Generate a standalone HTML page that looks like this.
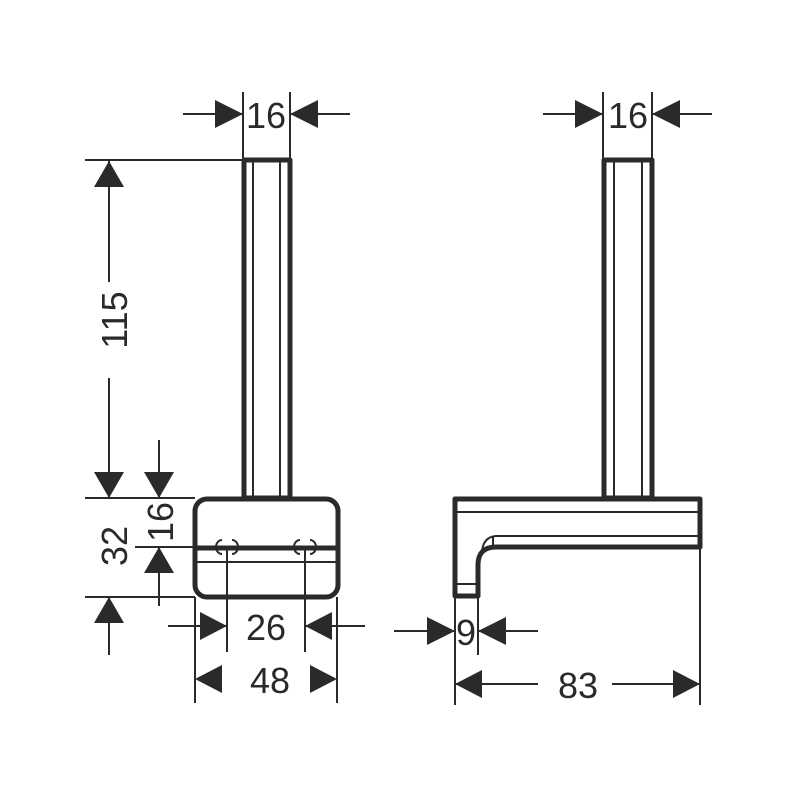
<!DOCTYPE html>
<html><head><style>body{margin:0;background:#fff}svg{display:block}</style></head>
<body>
<svg width="800" height="800" viewBox="0 0 800 800" xmlns="http://www.w3.org/2000/svg">
<defs>
<style>
.t{stroke:#2a2a2a;stroke-width:5;fill:none;stroke-linejoin:round}
.n{stroke:#2a2a2a;stroke-width:2;fill:none}
.a{fill:#2a2a2a}
text{font-family:"Liberation Sans",sans-serif;font-size:36px;fill:#2a2a2a}
</style>
</defs>
<!-- LEFT VIEW -->
<!-- rod -->
<rect x="244" y="160" width="46" height="338" class="t"/>
<line x1="253" y1="162" x2="253" y2="498" class="n"/>
<line x1="280" y1="162" x2="280" y2="498" class="n"/>
<!-- base -->
<rect x="195" y="499" width="143" height="98" rx="12" class="t"/>
<line x1="195" y1="548" x2="338" y2="548" class="t" stroke-width="6"/>
<line x1="197" y1="562" x2="336" y2="562" class="n"/>
<path d="M222,540 a6,7 0 0 0 0,14 M232,540 a6,7 0 0 1 0,14 M300,540 a6,7 0 0 0 0,14 M310,540 a6,7 0 0 1 0,14" class="n" stroke-width="1.5"/>
<!-- top 16 -->
<line x1="243" y1="92" x2="243" y2="158" class="n"/>
<line x1="290" y1="92" x2="290" y2="158" class="n"/>
<line x1="183" y1="114" x2="243" y2="114" class="n"/>
<line x1="290" y1="114" x2="350" y2="114" class="n"/>
<polygon points="243,114 215,100 215,128" class="a"/>
<polygon points="290,114 318,100 318,128" class="a"/>
<text x="266" y="128" text-anchor="middle" font-size="34">16</text>
<!-- 115 -->
<line x1="85" y1="160" x2="243" y2="160" class="n"/>
<line x1="85" y1="498" x2="195" y2="498" class="n"/>
<line x1="109" y1="160" x2="109" y2="282" class="n"/>
<line x1="109" y1="378" x2="109" y2="498" class="n"/>
<polygon points="109,161 94,187 124,187" class="a"/>
<polygon points="109,498 94,472 124,472" class="a"/>
<text transform="translate(127,320) rotate(-90)" text-anchor="middle">115</text>
<!-- 32 -->
<line x1="85" y1="597" x2="195" y2="597" class="n"/>
<line x1="109" y1="597" x2="109" y2="655" class="n"/>
<polygon points="109,597 94,623 124,623" class="a"/>
<text transform="translate(127,546) rotate(-90)" text-anchor="middle">32</text>
<!-- 16 vertical -->
<line x1="135" y1="547" x2="195" y2="547" class="n"/>
<line x1="159" y1="440" x2="159" y2="498" class="n"/>
<polygon points="159,498 144,472 174,472" class="a"/>
<line x1="159" y1="547" x2="159" y2="606" class="n"/>
<polygon points="159,547 144,573 174,573" class="a"/>
<text transform="translate(173,522) rotate(-90)" text-anchor="middle">16</text>
<!-- 26 -->
<line x1="227" y1="548" x2="227" y2="652" class="n"/>
<line x1="305" y1="548" x2="305" y2="652" class="n"/>
<line x1="168" y1="626" x2="227" y2="626" class="n"/>
<line x1="305" y1="626" x2="365" y2="626" class="n"/>
<polygon points="227,626 200,612 200,640" class="a"/>
<polygon points="305,626 332,612 332,640" class="a"/>
<text x="266" y="640" text-anchor="middle">26</text>
<!-- 48 -->
<line x1="195" y1="597" x2="195" y2="703" class="n"/>
<line x1="337" y1="597" x2="337" y2="703" class="n"/>
<polygon points="195,679 222,665 222,693" class="a"/>
<polygon points="337,679 310,665 310,693" class="a"/>
<text x="270" y="693" text-anchor="middle">48</text>

<!-- RIGHT VIEW -->
<rect x="604" y="160" width="48" height="338" class="t"/>
<line x1="614" y1="162" x2="614" y2="498" class="n"/>
<line x1="642" y1="162" x2="642" y2="498" class="n"/>
<path d="M455,499 L700,499 L700,547 L496,547 Q478,547 478,565 L478,596 L455,596 Z" class="t"/>
<line x1="457" y1="512" x2="698" y2="512" class="n"/>
<path d="M698,536 L496,536 Q483,537 482,552" class="n"/>
<line x1="493" y1="537" x2="493" y2="547" class="n"/>
<line x1="457" y1="584" x2="476" y2="584" class="n"/>
<line x1="543" y1="114" x2="603" y2="114" class="n"/>
<line x1="652" y1="114" x2="712" y2="114" class="n"/>
<line x1="603" y1="92" x2="603" y2="158" class="n"/>
<line x1="652" y1="92" x2="652" y2="158" class="n"/>
<polygon points="603,114 575,100 575,128" class="a"/>
<polygon points="652,114 680,100 680,128" class="a"/>
<text x="628" y="128" text-anchor="middle" font-size="34">16</text>
<!-- 9 -->
<line x1="455" y1="597" x2="455" y2="705" class="n"/>
<line x1="478" y1="597" x2="478" y2="655" class="n"/>
<line x1="394" y1="631" x2="455" y2="631" class="n"/>
<line x1="478" y1="631" x2="538" y2="631" class="n"/>
<polygon points="455,631 427,617 427,645" class="a"/>
<polygon points="478,631 506,617 506,645" class="a"/>
<text x="466" y="645" text-anchor="middle" font-size="34">9</text>
<!-- 83 -->
<line x1="700" y1="547" x2="700" y2="705" class="n"/>
<line x1="455" y1="684" x2="538" y2="684" class="n"/>
<line x1="612" y1="684" x2="700" y2="684" class="n"/>
<polygon points="455,684 482,670 482,698" class="a"/>
<polygon points="700,684 673,670 673,698" class="a"/>
<text x="578" y="698" text-anchor="middle">83</text>
</svg>
</body></html>
